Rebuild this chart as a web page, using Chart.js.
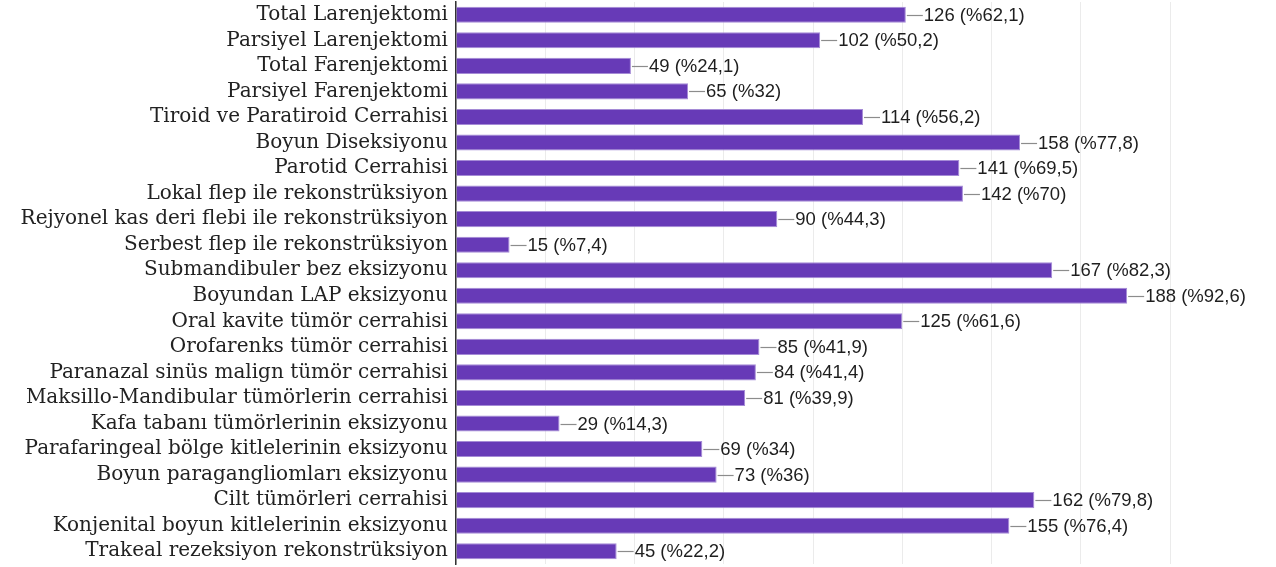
<!DOCTYPE html>
<html>
<head>
<meta charset="utf-8">
<script src="https://cdn.jsdelivr.net/npm/chart.js@4/dist/chart.umd.min.js"></script>
<style>
  html, body { margin: 0; padding: 0; background: #fff; }
  #wrap { width: 1276px; height: 567px; position: relative; }
</style>
</head>
<body>
<div id="wrap"><canvas id="chart"></canvas></div>
<script>
const categories = [
    "Total Larenjektomi",
    "Parsiyel Larenjektomi",
    "Total Farenjektomi",
    "Parsiyel Farenjektomi",
    "Tiroid ve Paratiroid Cerrahisi",
    "Boyun Diseksiyonu",
    "Parotid Cerrahisi",
    "Lokal flep ile rekonstrüksiyon",
    "Rejyonel kas deri flebi ile rekonstrüksiyon",
    "Serbest flep ile rekonstrüksiyon",
    "Submandibuler bez eksizyonu",
    "Boyundan LAP eksizyonu",
    "Oral kavite tümör cerrahisi",
    "Orofarenks tümör cerrahisi",
    "Paranazal sinüs malign tümör cerrahisi",
    "Maksillo-Mandibular tümörlerin cerrahisi",
    "Kafa tabanı tümörlerinin eksizyonu",
    "Parafaringeal bölge kitlelerinin eksizyonu",
    "Boyun paragangliomları eksizyonu",
    "Cilt tümörleri cerrahisi",
    "Konjenital boyun kitlelerinin eksizyonu",
    "Trakeal rezeksiyon rekonstrüksiyon"
];

const counts = [126, 102, 49, 65, 114, 158, 141, 142, 90, 15, 167, 188, 125, 85, 84, 81, 29, 69, 73, 162, 155, 45];
const percents = [62.1, 50.2, 24.1, 32, 56.2, 77.8, 69.5, 70, 44.3, 7.4, 82.3, 92.6, 61.6, 41.9, 41.4, 39.9, 14.3, 34, 36, 79.8, 76.4, 22.2];

const xMax = 200;
const xStep = 25;

// draws "126 (%62,1)" after each bar with a short grey connector
const valueLabels = {
    id: 'valueLabels',
    afterDatasetsDraw(chart) {
        const ctx = chart.ctx;
        const meta = chart.getDatasetMeta(0);
        ctx.save();
        ctx.font = '18.5px "Liberation Sans", Arial, sans-serif';
        ctx.textBaseline = 'middle';
        ctx.textAlign = 'left';
        meta.data.forEach((bar, i) => {
            const x = bar.x;
            const y = Math.round(bar.y);
            ctx.strokeStyle = '#8c8c8c';
            ctx.lineWidth = 1.2;
            ctx.beginPath();
            ctx.moveTo(x + 1, y + 0.5);
            ctx.lineTo(x + 17, y + 0.5);
            ctx.stroke();
            ctx.fillStyle = '#1e1e1e';
            const pct = String(percents[i]).replace('.', ',');
            ctx.fillText(counts[i] + ' (%' + pct + ')', x + 18, y + 1);
        });
        ctx.restore();
    }
};

new Chart(document.getElementById('chart'), {
    type: 'bar',
    data: {
        labels: categories,
        datasets: [{
            data: counts,
            backgroundColor: '#673ab7',
            borderColor: '#a58bd6',
            borderWidth: 1,
            barPercentage: 0.63,
            categoryPercentage: 1.0
        }]
    },
    options: {
        indexAxis: 'y',
        responsive: true,
        maintainAspectRatio: false,
        animation: false,
        layout: { padding: { top: 2, bottom: 3, right: 106, left: 0 } },
        plugins: {
            legend: { display: false },
            tooltip: { enabled: false }
        },
        scales: {
            x: {
                min: 0,
                max: xMax,
                ticks: { display: false, stepSize: xStep },
                grid: { color: '#ebebeb', lineWidth: 1, drawTicks: false },
                border: { display: false },
                afterFit(scale) { scale.height = 0; }
            },
            y: {
                grid: { display: false, drawTicks: false },
                border: { display: true, color: '#333', width: 1.5 },
                ticks: {
                    color: '#222',
                    padding: 8,
                    autoSkip: false,
                    font: { family: '"DejaVu Serif", serif', size: 20 }
                },
                afterFit(scale) {
                    scale.width = 456;
                    scale.paddingTop = 0;
                    scale.paddingBottom = 0;
                }
            }
        }
    },
    plugins: [valueLabels]
});
</script>
</body>
</html>
